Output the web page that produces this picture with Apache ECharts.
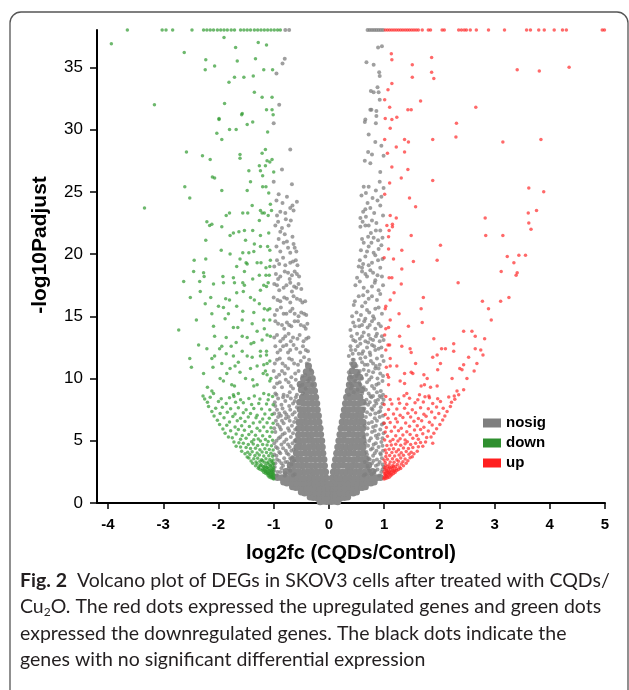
<!DOCTYPE html>
<html>
<head>
<meta charset="utf-8">
<script src="https://cdn.jsdelivr.net/npm/echarts@6/dist/echarts.min.js"></script>
<style>html,body{margin:0;padding:0;background:#fff;}#c{width:629px;height:690px;}</style>
</head>
<body>
<div id="c"></div>
<script>
// ---- tick labels ----
const xTicks = [-4, -3, -2, -1, 0, 1, 2, 3, 4, 5];
const yTicks = [0, 5, 10, 15, 20, 25, 30, 35];
const legendNames = ['nosig', 'down', 'up'];
const xTitle = 'log2fc (CQDs/Control)';
const yTitle = '-log10Padjust';

// ---- nosig: dense core (log2fc, -log10Padjust) ----
const nosigCore = [
[0.04,0.12],[0.1,0.14],[0.16,0.1],
[0.04,0.4],[0.12,0.43],[0.2,0.38],[0.28,0.44],[0.34,0.48],
[0.04,0.8],[0.12,0.78],[0.2,0.83],[0.28,0.79],[0.36,0.84],[0.44,0.8],[0.5,0.88],
[0.05,1.2],[0.13,1.22],[0.21,1.18],[0.29,1.21],[0.37,1.24],[0.45,1.19],[0.53,1.22],[0.6,1.25],[0.66,1.3],
[0.05,1.6],[0.13,1.62],[0.21,1.58],[0.29,1.6],[0.37,1.63],[0.45,1.59],[0.53,1.61],[0.61,1.6],[0.69,1.62],[0.76,1.6],[0.82,1.68],
[0.06,2.0],[0.14,2.02],[0.22,1.98],[0.3,2.01],[0.38,2.03],[0.46,1.99],[0.54,2.0],[0.62,2.02],[0.7,1.98],[0.78,2.0],[0.86,2.02],[0.93,2.05],
[0.08,2.5],[0.16,2.51],[0.24,2.48],[0.32,2.52],[0.4,2.5],[0.48,2.49],[0.56,2.52],[0.64,2.48],[0.72,2.5],[0.79,2.53],
[0.1,3.0],[0.18,3.01],[0.26,3.03],[0.34,2.98],[0.42,3.0],[0.5,3.02],[0.58,2.99],[0.66,3.01],[0.72,3.04],
[0.12,3.5],[0.2,3.49],[0.28,3.52],[0.36,3.5],[0.44,3.48],[0.52,3.51],[0.6,3.5],[0.67,3.53],
[0.14,4.0],[0.22,4.02],[0.3,3.99],[0.38,4.01],[0.46,4.0],[0.54,3.98],[0.62,4.02],
[0.16,4.5],[0.24,4.51],[0.32,4.48],[0.4,4.5],[0.48,4.52],[0.56,4.49],[0.62,4.5],
[0.18,5.0],[0.26,5.02],[0.34,4.99],[0.42,5.0],[0.5,5.01],[0.58,4.98],[0.62,5.03],
[0.2,5.5],[0.28,5.49],[0.36,5.52],[0.44,5.5],[0.52,5.48],[0.6,5.51],
[0.22,6.0],[0.3,6.02],[0.38,5.99],[0.46,6.0],[0.54,6.01],[0.61,5.98],
[0.24,6.5],[0.32,6.51],[0.4,6.48],[0.48,6.5],[0.56,6.52],[0.62,6.49],
[0.26,7.0],[0.34,7.02],[0.42,6.99],[0.5,7.0],[0.58,7.01],
[0.28,7.5],[0.36,7.49],[0.44,7.52],[0.52,7.5],[0.6,7.48],
[0.3,8.0],[0.38,8.02],[0.46,7.99],[0.54,8.0],[0.61,8.1],
[0.32,8.5],[0.4,8.49],[0.48,8.52],[0.56,8.5],
[0.35,9.0],[0.43,9.02],[0.51,8.98],[0.59,9.1],
[0.37,9.5],[0.45,9.55],[0.53,9.48],
[0.39,10.0],[0.47,10.05],[0.56,10.1],
[0.42,10.6],[0.5,10.5],
[0.45,11.1],
[-0.04,0.12],[-0.1,0.15],[-0.16,0.1],
[-0.04,0.4],[-0.12,0.42],[-0.2,0.39],[-0.28,0.45],[-0.34,0.48],
[-0.04,0.8],[-0.12,0.79],[-0.2,0.82],[-0.28,0.8],[-0.36,0.85],[-0.44,0.81],[-0.5,0.88],
[-0.04,1.2],[-0.12,1.21],[-0.2,1.19],[-0.28,1.22],[-0.36,1.2],[-0.44,1.23],[-0.52,1.2],[-0.6,1.24],[-0.66,1.3],
[-0.05,1.6],[-0.13,1.61],[-0.21,1.59],[-0.29,1.62],[-0.37,1.6],[-0.45,1.58],[-0.53,1.61],[-0.61,1.6],[-0.69,1.63],[-0.76,1.6],[-0.82,1.68],
[-0.05,2.0],[-0.13,2.01],[-0.21,1.99],[-0.29,2.02],[-0.37,2.0],[-0.45,1.98],[-0.53,2.01],[-0.61,2.03],[-0.69,1.99],[-0.77,2.0],[-0.85,2.02],[-0.93,2.05],
[-0.06,2.5],[-0.14,2.52],[-0.22,2.49],[-0.3,2.5],[-0.38,2.51],[-0.46,2.48],[-0.54,2.5],[-0.62,2.52],[-0.7,2.49],[-0.78,2.53],
[-0.08,3.0],[-0.16,3.02],[-0.24,2.99],[-0.32,3.0],[-0.4,3.01],[-0.48,2.98],[-0.56,3.02],[-0.64,3.0],[-0.7,3.04],
[-0.09,3.5],[-0.17,3.51],[-0.25,3.49],[-0.33,3.52],[-0.41,3.5],[-0.49,3.48],[-0.57,3.51],[-0.65,3.5],
[-0.11,4.0],[-0.19,4.02],[-0.27,3.99],[-0.35,4.0],[-0.43,4.01],[-0.51,3.98],[-0.59,4.02],
[-0.12,4.5],[-0.2,4.49],[-0.28,4.52],[-0.36,4.5],[-0.44,4.48],[-0.52,4.51],[-0.58,4.5],
[-0.13,5.0],[-0.21,5.01],[-0.29,4.99],[-0.37,5.02],[-0.45,5.0],[-0.53,4.98],[-0.57,5.03],
[-0.15,5.5],[-0.23,5.52],[-0.31,5.49],[-0.39,5.5],[-0.47,5.51],[-0.55,5.48],
[-0.16,6.0],[-0.24,6.01],[-0.32,5.98],[-0.4,6.0],[-0.48,6.02],[-0.55,5.99],
[-0.18,6.5],[-0.26,6.51],[-0.34,6.49],[-0.42,6.5],[-0.5,6.52],[-0.54,6.48],
[-0.19,7.0],[-0.27,7.01],[-0.35,6.98],[-0.43,7.0],[-0.51,7.02],
[-0.21,7.5],[-0.29,7.52],[-0.37,7.49],[-0.45,7.5],[-0.52,7.51],
[-0.22,8.0],[-0.3,8.01],[-0.38,7.99],[-0.46,8.02],[-0.53,8.1],
[-0.24,8.5],[-0.32,8.48],[-0.4,8.51],[-0.48,8.5],
[-0.26,9.0],[-0.34,9.02],[-0.42,8.99],[-0.5,9.1],
[-0.28,9.5],[-0.36,9.52],[-0.44,9.48],[-0.52,9.55],
[-0.3,10.0],[-0.38,10.04],[-0.46,9.98],
[-0.33,10.5],[-0.41,10.55],
[-0.37,11.0]
];

// ---- nosig: scattered points ----
const nosigSparse = [
[0.66,2.3],[0.74,2.6],[0.82,2.4],[0.88,2.7],[0.95,2.5],[0.99,2.9],[0.7,3.0],[0.78,3.2],[0.85,3.0],[0.92,3.3],[0.97,3.1],
[0.72,3.6],[0.8,3.8],[0.87,3.5],[0.94,3.9],[0.68,4.1],[0.76,4.3],[0.83,4.0],[0.9,4.5],[0.98,4.2],[0.66,4.8],[0.73,5.0],
[0.81,4.7],[0.88,5.2],[0.95,4.9],[0.69,5.5],[0.78,5.7],[0.85,5.4],[0.93,5.9],[0.99,5.6],[0.65,6.2],[0.72,6.4],[0.8,6.1],
[0.87,6.6],[0.96,6.3],[0.67,6.9],[0.75,7.1],[0.83,6.8],[0.9,7.3],[0.98,7.0],[0.64,7.6],[0.71,7.9],[0.79,7.5],[0.86,8.0],
[0.94,7.7],[0.68,8.3],[0.77,8.5],[0.84,8.2],[0.92,8.6],[0.99,8.3],
[0.63,2.2],[0.71,2.8],[0.77,2.3],[0.84,2.6],[0.91,2.2],[0.97,2.7],[0.65,3.3],[0.74,3.5],[0.81,3.4],[0.89,3.1],[0.96,3.6],
[0.69,3.9],[0.86,4.2],[0.93,4.0],[0.71,4.6],[0.79,4.4],[0.85,4.8],[0.97,4.6],[0.64,5.3],[0.76,5.2],[0.83,5.8],[0.9,5.5],
[0.97,5.2],[0.7,6.0],[0.78,6.5],[0.85,6.2],[0.92,6.9],[0.99,6.4],[0.69,7.3],[0.77,7.6],[0.84,7.2],[0.93,7.4],[0.66,8.0],
[0.74,8.1],[0.82,7.8],[0.89,8.3],[0.97,8.0],[0.72,8.8],[0.8,8.6],[0.95,8.5],
[-0.62,2.3],[-0.7,2.6],[-0.79,2.4],[-0.86,2.8],[-0.93,2.5],[-0.98,2.9],[-0.68,3.1],[-0.75,3.3],[-0.83,3.0],[-0.9,3.4],
[-0.97,3.2],[-0.66,3.7],[-0.73,3.9],[-0.81,3.6],[-0.88,4.0],[-0.95,3.8],[-0.64,4.3],[-0.71,4.5],[-0.78,4.2],[-0.86,4.7],
[-0.93,4.4],[-0.99,4.8],[-0.62,5.0],[-0.69,5.3],[-0.77,5.1],[-0.84,5.5],[-0.91,5.2],[-0.97,5.7],[-0.61,5.9],[-0.67,6.2],
[-0.74,6.0],[-0.82,6.4],[-0.89,6.1],[-0.96,6.6],[-0.6,6.8],[-0.66,7.1],[-0.73,6.9],[-0.8,7.3],[-0.87,7.0],[-0.94,7.5],
[-0.99,7.2],[-0.58,7.7],[-0.65,8.0],[-0.72,7.8],[-0.79,8.2],[-0.86,7.9],[-0.92,8.4],[-0.98,8.1],[-0.6,8.5],[-0.75,8.6],
[-0.65,2.2],[-0.73,2.8],[-0.8,2.2],[-0.88,2.5],[-0.95,2.2],[-0.99,2.6],[-0.63,3.4],[-0.7,3.6],[-0.79,3.3],[-0.86,3.2],
[-0.94,3.5],[-0.99,3.9],[-0.68,4.2],[-0.76,4.0],[-0.83,4.4],[-0.9,4.1],[-0.96,4.5],[-0.66,4.8],[-0.74,4.7],[-0.81,4.9],
[-0.88,5.3],[-0.95,5.0],[-0.65,5.6],[-0.72,5.8],[-0.8,5.6],[-0.87,5.9],[-0.93,6.3],[-0.99,6.0],[-0.63,6.5],[-0.71,6.6],
[-0.78,6.8],[-0.85,6.6],[-0.92,6.9],[-0.62,7.3],[-0.7,7.5],[-0.77,7.1],[-0.84,7.6],[-0.9,7.2],[-0.97,7.8],[-0.62,8.2],
[-0.69,8.4],[-0.83,8.5],[-0.95,8.7],
[0.36,8.7],[0.45,8.9],[0.6,8.8],[0.75,8.6],[0.87,8.9],[0.98,8.7],[0.4,9.2],[0.52,9.1],[0.63,9.3],[0.82,9.2],[0.94,9.0],
[0.39,9.6],[0.48,9.8],[0.57,9.5],[0.69,9.7],[0.78,9.4],[0.9,9.6],[0.41,10.1],[0.5,10.2],[0.6,10.0],[0.77,10.1],[0.88,10.0],
[0.36,10.5],[0.45,10.9],[0.54,10.4],[0.63,10.7],[0.72,10.6],[0.84,10.8],[0.93,10.4],
[0.4,11.2],[0.5,11.0],[0.6,11.3],[0.7,11.1],[0.8,11.2],[0.92,11.1],
[0.36,11.8],[0.45,11.5],[0.54,12.0],[0.66,11.7],[0.75,11.9],[0.87,11.6],[0.96,11.8],
[0.43,12.0],[0.62,12.2],[0.74,12.1],[0.84,12.3],
[0.39,12.6],[0.48,12.3],[0.57,12.8],[0.69,12.5],[0.78,12.7],[0.9,12.4],
[0.44,13.1],[0.56,13.2],[0.66,13.0],[0.8,13.1],[0.92,13.0],
[0.39,13.9],[0.51,13.6],[0.63,13.7],[0.72,13.5],[0.87,13.6],[0.96,13.4],
[0.47,14.2],[0.6,14.3],[0.7,14.1],[0.84,14.0],
[0.42,15.0],[0.54,14.7],[0.66,14.8],[0.78,14.6],[0.9,14.4],
[0.45,15.9],[0.6,15.8],[0.69,15.5],[0.84,15.6],[0.96,15.2],
[0.54,16.6],[0.72,16.4],[0.87,16.3],[0.48,17.5],[0.63,17.3],[0.78,17.4],[0.9,17.1],
[0.51,18.1],[0.69,18.2],[0.84,17.9],[0.96,18.2],[0.54,19.0],[0.6,18.6],[0.75,18.7],[0.93,18.9],
[0.56,19.5],[0.66,19.8],[0.78,19.3],[0.89,19.5],[0.72,20.6],[0.63,20.9],[0.9,20.4],[0.81,20.1],
[0.71,21.4],[0.81,21.3],[0.89,21.1],[0.57,22.2],[0.66,22.3],[0.93,21.9],
[0.57,22.9],[0.67,23.0],[0.78,22.7],[0.98,23.1],[0.75,23.7],[0.66,23.6],[0.88,24.3],[0.59,24.7],
[0.42,9.4],[0.55,9.7],[0.67,9.1],[0.73,9.9],[0.86,9.5],[0.97,9.8],[0.38,10.3],[0.56,10.6],[0.68,10.3],[0.8,10.5],[0.9,10.8],
[0.98,10.2],[0.43,11.5],[0.57,11.6],[0.65,11.1],[0.76,11.4],[0.85,11.0],[0.99,11.4],[0.4,12.3],[0.52,12.6],[0.6,12.0],
[0.71,12.9],[0.82,12.6],[0.95,12.5],[0.41,13.4],[0.48,13.0],[0.6,13.4],[0.75,13.2],[0.85,13.4],[0.99,13.1],[0.44,14.5],
[0.55,14.2],[0.64,14.6],[0.74,14.3],[0.82,14.8],[0.94,14.2],[0.5,15.3],[0.58,15.1],[0.73,15.3],[0.8,15.0],[0.9,15.7],
[0.47,16.2],[0.62,16.7],[0.66,16.1],[0.78,16.6],[0.93,16.8],[0.56,17.8],[0.7,17.0],[0.83,17.7],[0.98,17.5],[0.6,18.9],
[0.66,18.4],[0.8,18.5],[0.88,18.3],[0.62,19.2],[0.72,19.1],[0.84,19.9],[0.97,19.6],[0.58,20.3],[0.69,20.2],[0.77,20.9],
[0.95,20.7],[0.6,21.2],[0.76,21.7],[0.85,21.9],[0.97,21.3],[0.61,22.6],[0.72,22.3],[0.86,22.5],[0.62,23.4],[0.82,23.3],
[0.93,23.9],[0.7,24.1],[0.79,24.5],[0.95,24.6],[0.67,24.9],[0.85,25.1],
[0.63,25.4],[0.72,25.4],[0.99,25.3],[0.92,25.8],[0.93,26.6],[0.65,27.5],[0.75,27.3],[0.99,27.9],
[0.71,28.2],[0.78,28.0],[0.84,29.0],[0.95,28.7],[0.72,29.6],[0.65,30.6],[0.85,30.5],
[0.75,31.6],[0.92,32.4],[0.66,30.8],[0.77,31.6],[0.86,31.5],[0.86,31.1],
[0.76,33.1],[0.88,33.4],[0.9,33.0],[0.81,33.0],[0.91,34.6],[0.92,34.3],[0.68,35.4],[0.81,35.2],[0.89,36.6],[0.96,36.7],
[0.7,38],[0.74,38],[0.78,38],[0.82,38],[0.86,38],[0.9,38],[0.94,38],[0.98,38],
[-0.9,32.0],[-1.0,30.5],[-0.7,28.4],[-0.85,26.8],[-0.67,25.6],[-1.0,25.8],[-0.91,24.8],[-0.7,23.7],[-0.64,23.5],
[-0.79,23.3],[-0.94,23.1],[-0.88,23.4],[-0.58,24.2],[-0.97,22.3],[-0.85,22.1],[-0.73,22.3],[-0.91,21.2],[-0.76,21.0],
[-0.64,20.8],[-0.88,20.2],[-0.7,20.1],[-0.59,20.2],[-0.94,19.5],[-0.79,19.1],[-0.65,19.4],[-0.57,19.1],
[-0.96,18.4],[-0.88,18.2],[-0.74,18.5],[-0.67,18.3],[-0.58,18.4],[-0.94,17.5],[-0.82,17.3],[-0.7,17.7],[-0.63,17.4],[-0.55,17.6],
[-1.0,16.5],[-0.88,16.2],[-0.76,16.4],[-0.64,16.6],[-0.52,16.3],[-0.43,16.2],
[-0.94,15.5],[-0.82,15.2],[-0.7,15.4],[-0.62,15.2],[-0.5,15.3],[-0.41,15.1],
[-0.97,14.6],[-0.85,14.3],[-0.76,14.5],[-0.68,14.2],[-0.56,14.6],[-0.45,14.2],[-0.39,14.4],
[-0.94,13.5],[-0.83,13.2],[-0.73,13.6],[-0.65,13.3],[-0.53,13.5],[-0.41,13.2],
[-0.97,12.6],[-0.88,12.3],[-0.77,12.7],[-0.7,12.3],[-0.59,12.4],[-0.47,12.6],[-0.38,12.2],
[-0.94,11.5],[-0.84,11.2],[-0.72,11.6],[-0.63,11.2],[-0.51,11.4],[-0.4,11.2],
[-1.0,10.6],[-0.9,10.3],[-0.8,10.4],[-0.68,10.1],[-0.55,10.6],[-0.43,10.3],[-0.35,10.0],
[-0.94,9.6],[-0.85,9.3],[-0.73,9.7],[-0.65,9.2],[-0.53,9.4],[-0.42,9.2],
[-0.97,8.8],[-0.82,8.7],[-0.71,8.9],[-0.58,8.7],[-0.47,8.8],
[-0.3,9.5],[-0.38,9.8],[-0.48,9.5],[-0.6,9.9],[-0.69,9.4],[-0.78,9.9],[-0.89,9.7],[-0.99,9.3],[-0.33,10.7],[-0.48,10.2],
[-0.61,10.4],[-0.74,10.8],[-0.85,10.6],[-0.95,10.1],[-0.36,11.5],[-0.45,11.7],[-0.56,11.1],[-0.67,11.5],[-0.79,11.0],
[-0.89,11.6],[-0.98,11.2],[-0.42,12.3],[-0.52,12.1],[-0.64,12.7],[-0.74,12.1],[-0.83,12.6],[-0.93,12.1],[-0.37,13.3],
[-0.46,13.0],[-0.57,13.2],[-0.69,13.0],[-0.79,13.4],[-0.88,13.0],[-0.99,13.3],[-0.42,14.0],[-0.51,14.3],[-0.62,14.6],
[-0.72,14.3],[-0.81,14.0],[-0.92,14.4],[-0.45,15.2],[-0.55,15.0],[-0.66,15.6],[-0.77,15.2],[-0.87,15.7],[-0.98,15.1],
[-0.48,16.1],[-0.58,16.4],[-0.7,16.1],[-0.81,16.5],[-0.93,16.3],[-0.5,17.2],[-0.59,17.3],[-0.67,17.0],[-0.77,17.5],
[-0.9,17.1],[-0.99,17.6],[-0.54,18.2],[-0.62,18.6],[-0.71,18.0],[-0.8,18.6],[-0.92,18.0],[-0.6,19.5],[-0.7,19.3],
[-0.83,19.7],[-0.9,19.2],[-0.99,19.0],[-0.62,20.5],[-0.74,20.5],[-0.82,20.9],[-0.95,20.6],[-0.66,21.4],[-0.8,21.6],
[-0.88,21.8],[-0.69,22.7],[-0.78,22.8],[-0.92,22.6],[-0.66,23.9],[-0.84,24.1],[-0.76,24.6],[-0.95,24.3],
[-0.95,34.5],[-0.8,35.7],[-0.84,35.3],[-0.79,38],[-0.72,38]
];

// ---- down (green) ----
const downGenes = [
[-1.0,1.92],[-1.02,1.98],[-1.05,2.02],[-1.08,2.08],[-1.01,2.1],[-1.04,2.15],[-1.1,2.18],[-1.0,2.0],[-1.03,2.12],[-1.06,2.18],
[-1.0,2.25],[-1.03,2.28],[-1.06,2.3],[-1.09,2.35],[-1.12,2.32],[-1.15,2.4],[-1.02,2.42],[-1.07,2.45],[-1.18,2.48],[-1.12,2.5],
[-1.0,2.32],[-1.04,2.48],[-1.1,2.4],[-1.15,2.55],[-1.2,2.72],[-1.06,2.66],[-1.01,2.7],[-1.12,2.85],[-1.18,2.9],[-1.24,3.0],
[-1.06,3.0],[-1.0,3.15],[-1.12,3.2],[-1.2,3.4],[-1.04,3.35],
[-1.01,2.55],[-1.04,2.6],[-1.08,2.58],[-1.11,2.65],[-1.14,2.6],[-1.17,2.68],[-1.21,2.62],[-1.25,2.72],[-1.03,2.75],[-1.09,2.78],
[-1.16,2.8],[-1.28,2.8],[-1.0,2.85],[-1.05,2.9],[-1.12,2.88],[-1.2,2.95],[-1.27,2.92],[-1.33,3.0],[-1.02,3.05],[-1.08,3.1],
[-1.15,3.02],[-1.23,3.12],[-1.3,3.15],[-1.38,3.2],[-1.03,3.25],[-1.1,3.3],[-1.17,3.28],[-1.25,3.35],[-1.32,3.3],[-1.41,3.38],
[-1.01,3.45],[-1.07,3.5],[-1.14,3.55],[-1.22,3.48],[-1.29,3.6],[-1.36,3.55],[-1.45,3.62],[-1.48,3.7],[-1.02,3.75],[-1.09,3.8],
[-1.18,3.78],[-1.26,3.85],[-1.34,3.82],[-1.43,3.9],[-1.52,3.95],[-1.05,4.0],[-1.13,4.05],[-1.21,4.1],[-1.3,4.02],[-1.39,4.12],
[-1.47,4.08],[-1.58,4.15],[-1.01,4.25],[-1.08,4.3],[-1.16,4.35],[-1.25,4.28],[-1.33,4.4],[-1.42,4.38],[-1.5,4.45],[-1.6,4.5],
[-1.68,4.55],[-1.04,4.6],[-1.12,4.65],[-1.2,4.7],[-1.29,4.62],[-1.37,4.75],[-1.46,4.7],[-1.55,4.8],[-1.63,4.85],[-1.72,4.9],
[-1.1,4.95],[-1.24,4.98],[-1.4,4.92],[-1.02,5.05],[-1.15,5.1],[-1.28,5.15],[-1.36,5.08],[-1.5,5.2],[-1.6,5.12],[-1.75,5.25],
[-1.82,5.3],[-1.07,5.35],[-1.2,5.4],[-1.33,5.45],[-1.45,5.5],[-1.57,5.42],[-1.68,5.55],[-1.88,5.6],[-1.03,5.7],[-1.12,5.75],
[-1.25,5.8],[-1.4,5.72],[-1.53,5.85],[-1.64,5.9],[-1.78,5.8],[-1.92,5.95],[-1.05,6.05],[-1.18,6.1],[-1.3,6.0],[-1.44,6.15],
[-1.58,6.2],[-1.7,6.1],[-1.85,6.25],[-1.98,6.3],[-1.01,6.4],[-1.12,6.45],[-1.25,6.5],[-1.37,6.42],[-1.52,6.55],[-1.66,6.6],
[-1.8,6.5],[-2.02,6.65],[-1.08,6.8],[-1.2,6.75],[-1.32,6.85],[-1.46,6.9],[-1.6,6.8],[-1.74,6.95],[-1.9,6.85],[-2.08,6.98],
[-1.03,7.1],[-1.16,7.15],[-1.3,7.05],[-1.42,7.2],[-1.55,7.25],[-1.7,7.15],[-1.84,7.3],[-1.97,7.2],[-2.12,7.35],[-1.07,7.5],
[-1.22,7.55],[-1.36,7.6],[-1.5,7.5],[-1.64,7.65],[-1.78,7.58],[-1.93,7.7],[-2.05,7.62],[-2.18,7.75],[-1.01,7.9],[-1.13,7.95],
[-1.27,8.0],[-1.4,7.92],[-1.55,8.05],[-1.69,8.1],[-1.86,8.0],[-2.0,8.15],[-2.2,8.1],[-1.1,8.3],[-1.25,8.35],[-1.45,8.4],
[-1.6,8.3],[-1.8,8.45],[-1.95,8.38],[-2.15,8.5],[-2.25,8.35],[-1.02,8.55],[-1.35,8.6],[-1.72,8.55],
[-2.28,8.6],[-1.73,8.7],[-1.64,8.8],[-1.18,8.8],[-1.09,8.7],[-2.12,9.0],[-2.09,8.8],[-2.2,9.3],[-1.76,9.5],[-1.71,9.4],
[-1.36,9.4],[-1.3,9.5],[-1.97,10.0],[-1.91,9.8],[-1.51,10.0],[-1.38,9.9],[-1.07,9.8],[-1.05,10.0],[-2.27,10.4],[-1.85,10.4],
[-1.61,10.5],[-1.19,10.4],[-1.15,10.6],[-1.12,10.3],[-2.49,10.9],[-2.1,10.9],[-1.79,10.8],[-1.7,11.0],[-1.42,10.8],[-1.3,11.0],
[-1.94,11.2],[-1.64,11.3],[-1.18,11.1],[-1.12,11.2],[-1.07,11.4],[-2.52,11.6],[-2.12,11.6],[-2.07,11.8],[-1.86,12.0],[-1.73,11.8],
[-1.48,11.8],[-1.39,11.7],[-1.24,11.8],[-1.13,11.9],[-2.21,12.4],[-1.57,12.2],[-1.24,12.2],[-1.13,12.2],[-2.36,12.7],[-1.98,12.4],
[-1.94,12.6],[-1.77,12.6],[-1.68,12.9],[-1.41,12.8],[-1.36,12.9],[-1.21,13.1],[-2.07,13.4],[-1.86,13.3],[-1.57,13.4],[-1.48,13.3],
[-1.12,13.5],[-1.06,13.4],[-1.3,13.8],[-2.72,13.9],[-2.09,14.2],[-1.73,14.1],[-1.65,14.1],[-1.17,14.0],[-1.39,14.4],[-2.4,14.7],
[-1.88,14.8],[-1.18,14.7],[-1.07,14.7],[-1.57,14.7],[-2.12,15.2],[-1.82,15.2],[-1.56,15.4],[-1.36,15.3],[-1.17,15.6],[-1.11,15.5],
[-1.07,15.6],[-2.0,15.8],[-1.91,15.7],[-1.67,15.8],[-2.24,16.0],[-1.26,16.0],[-1.8,16.3],[-1.87,16.4],[-1.35,16.3],[-1.42,16.5],
[-2.51,16.5],[-2.14,16.5],[-2.33,17.0],[-1.55,17.0],[-1.67,16.9],[-1.24,17.1],[-2.63,17.8],[-2.34,17.8],[-2.09,17.6],[-1.91,17.7],
[-1.71,17.7],[-1.56,17.7],[-1.53,17.5],[-1.18,17.5],[-1.13,17.4],[-1.1,17.7],[-1.73,18.1],[-1.38,18.0],[-2.45,18.6],[-2.27,18.5],
[-2.26,18.2],[-1.53,18.6],[-1.92,18.2],[-1.26,18.3],[-1.14,18.3],[-1.08,18.3],[-1.67,19.0],[-1.14,18.9],[-1.07,19.0],[-1.3,19.3],
[-1.23,19.3],[-1.5,19.3],[-1.48,19.2],[-1.06,19.5],[-1.61,19.6],[-2.44,19.5],[-2.23,19.6],[-1.95,20.3],[-1.56,20.1],[-1.45,20.1],
[-1.36,20.2],[-1.79,20.0],[-1.24,20.6],[-1.11,20.6],[-1.07,20.3],[-1.35,20.8],[-2.23,21.1],[-1.51,21.1],[-1.79,21.5],[-1.24,21.5],
[-1.09,21.7],[-1.73,21.7],[-1.63,21.8],[-1.53,21.9],[-1.38,21.9],[-1.94,22.2],[-2.16,22.3],[-2.12,22.4],[-2.21,22.6],[-1.26,22.7],
[-1.1,23.1],[-1.86,23.1],[-1.8,23.3],[-1.56,23.3],[-1.47,23.3],[-1.24,23.5],[-1.21,23.3],[-1.17,23.3],[-1.04,23.5],[-1.06,24.0],
[-1.39,23.9],[-3.34,23.7],[-2.52,24.5],[-1.09,24.9],[-1.94,25.1],[-1.48,25.1],[-2.61,25.4],[-1.2,25.4],[-1.14,25.4],[-1.42,25.8],
[-2.11,26.2],[-2.07,26.1],[-1.0,26.6],[-1.45,26.7],[-1.24,26.7],[-1.2,26.3],[-1.26,27.1],[-1.15,27.1],[-1.12,27.5],[-1.03,27.6],
[-1.07,27.4],[-2.29,27.9],[-2.15,27.6],[-1.61,28.0],[-1.61,27.7],[-2.58,28.2],[-1.15,28.4],[-1.21,28.1],[-1.94,29.2],[-2.03,29.7],
[-1.11,29.8],[-1.8,30.0],[-1.68,30.0],[-1.38,30.6],[-1.48,30.4],[-1.99,30.8],[-1.57,31.3],[-1.13,31.6],[-1.03,31.6],[-1.89,32.1],
[-3.16,32.0],[-1.01,31.2],[-1.58,31.2],[-1.99,30.9],[-1.21,32.6],[-1.03,32.6],[-1.35,33.0],[-1.81,33.8],[-1.37,34.3],[-1.71,34.2],
[-1.54,34.2],[-2.24,34.8],[-1.18,34.8],[-1.02,34.8],[-2.07,35.1],[-2.23,35.6],[-1.66,35.5],[-1.33,35.7],[-2.62,36.2],[-1.69,36.6],
[-1.13,36.8],[-1.28,37.0],[-3.94,36.9],[-1.9,37.4],
[-3.65,38],[-3.02,38],[-2.95,38],[-2.83,38],[-2.48,38],[-2.27,38],[-2.21,38],[-2.15,38],[-2.09,38],[-2.02,38],[-1.96,38],
[-1.9,38],[-1.84,38],[-1.77,38],[-1.71,38],[-1.6,38],[-1.54,38],[-1.48,38],[-1.42,38],[-1.35,38],[-1.29,38],[-1.23,38],
[-1.17,38],[-1.11,38],[-1.05,38],[-0.99,38],[-0.93,38],[-0.88,38]
];

// ---- up (red) ----
const upGenes = [
[1.0,1.92],[1.03,1.97],[1.06,2.02],[1.09,2.06],[1.01,2.1],[1.05,2.14],[1.12,2.18],[1.02,2.24],[1.07,2.27],[1.1,2.31],
[1.14,2.29],[1.17,2.38],[1.03,2.4],[1.08,2.44],[1.2,2.47],[1.13,2.5],[1.0,2.52],[1.05,2.58],[1.09,2.55],[1.12,2.63],
[1.16,2.59],[1.19,2.66],[1.23,2.61],[1.26,2.7],[1.02,2.73],[1.08,2.76],[1.15,2.79],[1.3,2.78],[1.01,2.86],[1.06,2.91],
[1.0,2.02],[1.04,2.2],[1.01,2.35],[1.11,2.4],[1.06,2.48],[1.18,2.55],[1.22,2.75],[1.04,2.66],[1.1,2.86],[1.17,2.92],
[1.13,2.87],[1.21,2.94],[1.28,2.9],[1.35,2.99],[1.03,3.04],[1.09,3.08],[1.16,3.03],[1.24,3.1],[1.31,3.14],[1.4,3.2],
[1.02,3.26],[1.11,3.3],[1.18,3.27],[1.26,3.36],[1.34,3.31],[1.43,3.39],[1.0,3.46],[1.06,3.51],[1.15,3.55],[1.23,3.47],
[1.3,3.61],[1.38,3.54],[1.47,3.63],[1.51,3.71],[1.03,3.74],[1.1,3.81],[1.19,3.77],[1.27,3.86],[1.35,3.83],[1.45,3.91],
[1.54,3.96],[1.04,4.01],[1.14,4.06],[1.22,4.11],[1.31,4.03],[1.4,4.13],[1.49,4.07],[1.6,4.16],[1.02,4.26],[1.09,4.31],
[1.17,4.36],[1.26,4.27],[1.35,4.41],[1.44,4.37],[1.52,4.46],[1.62,4.51],[1.7,4.56],[1.05,4.61],[1.13,4.66],[1.21,4.71],
[1.3,4.63],[1.38,4.76],[1.48,4.69],[1.57,4.81],[1.66,4.86],[1.75,4.91],[1.88,4.8],[1.11,4.96],[1.25,4.99],[1.42,4.93],
[1.01,5.06],[1.16,5.11],[1.29,5.16],[1.38,5.07],[1.52,5.21],[1.62,5.13],[1.77,5.26],[1.85,5.31],[1.06,5.36],[1.21,5.41],
[1.34,5.46],[1.47,5.51],[1.59,5.43],[1.7,5.56],[1.9,5.61],[1.02,5.71],[1.13,5.76],[1.26,5.81],[1.41,5.73],[1.55,5.86],
[1.66,5.91],[1.8,5.79],[1.95,5.96],[1.04,6.06],[1.19,6.11],[1.31,6.01],[1.46,6.16],[1.6,6.21],[1.72,6.09],[1.87,6.26],
[2.01,6.31],[1.0,6.41],[1.11,6.46],[1.24,6.51],[1.39,6.43],[1.54,6.56],[1.68,6.61],[1.82,6.49],[2.06,6.66],[1.07,6.81],
[1.21,6.76],[1.34,6.86],[1.48,6.91],[1.62,6.79],[1.76,6.96],[1.92,6.84],[2.1,6.99],[1.02,7.11],[1.17,7.16],[1.29,7.04],
[1.43,7.21],[1.57,7.26],[1.72,7.14],[1.86,7.31],[1.99,7.19],[2.14,7.36],[1.08,7.51],[1.23,7.56],[1.37,7.61],[1.51,7.49],
[1.66,7.66],[1.8,7.57],[1.95,7.71],[2.07,7.61],[2.2,7.76],[1.0,7.91],[1.14,7.96],[1.28,8.01],[1.41,7.93],[1.56,8.06],
[1.71,8.11],[1.88,7.99],[2.02,8.16],[2.22,8.09],[1.11,8.31],[1.26,8.36],[1.46,8.41],[1.61,8.29],[1.82,8.46],[1.97,8.37],
[2.17,8.51],[2.28,8.34],[1.03,8.56],[1.36,8.61],[1.74,8.54],
[1.41,8.8],[1.64,8.7],[1.81,8.6],[2.27,8.6],[2.35,8.7],[2.32,9.0],[2.44,9.1],[1.84,9.3],[1.96,9.4],[1.67,9.4],[1.73,9.5],
[1.08,9.5],[1.29,9.8],[1.37,9.6],[1.06,10.3],[1.08,10.1],[1.37,10.4],[1.72,10.3],[1.78,10.0],[2.23,10.0],[2.5,10.0],
[1.49,10.5],[1.52,10.4],[2.37,10.8],[2.41,10.7],[2.63,10.6],[1.04,10.9],[1.11,11.0],[1.23,11.0],[2.02,11.2],[1.97,10.7],
[2.44,11.1],[2.68,11.2],[1.57,11.2],[1.11,11.6],[1.88,11.7],[1.96,11.9],[2.53,11.7],[2.79,11.9],[1.03,12.3],[1.47,12.4],
[1.49,12.1],[2.26,12.2],[2.04,12.4],[2.11,12.4],[2.65,12.4],[2.75,12.3],[1.07,12.7],[1.1,12.7],[1.32,12.6],[2.26,12.8],
[1.01,13.5],[1.28,13.4],[1.9,13.2],[2.65,13.4],[2.82,13.2],[2.44,13.8],[2.59,13.8],[1.03,14.0],[1.08,14.1],[1.44,14.2],
[1.69,14.5],[1.11,14.7],[2.94,14.7],[1.27,15.2],[1.67,15.6],[2.89,15.6],[1.03,15.8],[1.02,15.6],[1.11,16.3],[1.71,16.5],
[2.78,16.2],[3.11,16.2],[3.26,16.5],[1.18,16.9],[1.31,17.6],[2.34,17.7],[1.09,18.1],[1.14,18.1],[3.41,18.5],[3.39,18.3],
[3.12,18.6],[1.32,18.8],[3.35,19.3],[1.0,19.7],[1.17,19.6],[1.53,19.4],[1.96,19.5],[3.23,19.8],[3.44,19.9],[3.56,19.9],
[1.08,20.4],[1.32,20.3],[2.02,20.7],[1.08,21.4],[1.49,21.5],[2.84,21.5],[3.15,21.5],[1.09,21.9],[3.66,22.0],[1.05,22.3],
[1.15,22.4],[1.15,22.2],[3.62,22.5],[1.11,23.1],[1.22,22.9],[2.83,22.9],[3.61,23.3],[3.76,23.5],[1.57,23.8],[1.46,24.5],
[1.01,24.8],[3.89,25.0],[3.62,25.3],[1.1,25.7],[1.88,25.9],[1.31,26.1],[1.43,26.8],[1.14,27.0],[1.06,28.1],[1.37,28.2],
[1.22,28.6],[1.44,29.0],[3.15,29.0],[1.01,29.2],[1.37,29.2],[1.88,29.2],[3.84,29.2],[2.3,29.4],[1.11,30.1],[2.31,30.5],
[1.14,30.8],[1.23,31.0],[1.02,30.9],[1.43,31.6],[1.49,31.6],[1.1,31.8],[2.66,31.8],[1.01,32.4],[1.66,32.3],[1.07,33.2],
[1.14,33.7],[1.9,34.1],[1.51,34.2],[1.86,34.6],[3.81,34.7],[3.41,34.8],[4.35,35.0],[1.51,35.2],[1.14,35.6],[1.86,35.8],
[1.13,36.1],
[1.02,38],[1.06,38],[1.1,38],[1.14,38],[1.18,38],[1.22,38],[1.26,38],[1.3,38],[1.34,38],[1.38,38],[1.42,38],[1.46,38],
[1.5,38],[1.54,38],[1.58,38],[1.62,38],[1.69,38],[1.8,38],[1.84,38],[2.05,38],[2.09,38],[2.35,38],[2.4,38],[2.45,38],
[2.49,38],[2.56,38],[2.67,38],[2.89,38],[3.18,38],[3.58,38],[3.65,38],[3.8,38],[3.9,38],[4.08,38],[4.23,38],[4.3,38],
[4.95,38],[4.99,38]
];

const captionLines = [
  '{b|Fig. 2}  Volcano plot of DEGs in SKOV3 cells after treated with CQDs/',
  'Cu{s|2}O. The red dots expressed the upregulated genes and green dots',
  'expressed the downregulated genes. The black dots indicate the',
  'genes with no significant differential expression'
];

const chart = echarts.init(document.getElementById('c'), null, {renderer: 'canvas'});
const FONT = 'Liberation Sans, Arial, sans-serif';
const capFont = 'Lato, Open Sans, sans-serif';
const capSize = 19.5;

const graphics = [
  {type: 'rect', shape: {x: 10, y: 12, width: 618, height: 720, r: 11},
   style: {fill: 'none', stroke: '#555', lineWidth: 1.3}, silent: true, z: 0},
  {type: 'text', x: 40, y: 245, rotation: Math.PI / 2, silent: true,
   style: {text: yTitle, fill: '#000', fontSize: 21, fontWeight: 'bold', fontFamily: FONT,
           align: 'center', verticalAlign: 'middle'}}
];
const capY = [581, 607, 634, 660];
captionLines.forEach((t, i) => {
  graphics.push({
    type: 'text', x: 20, y: capY[i], silent: true,
    style: {
      text: t, fill: '#231f20', fontSize: capSize, fontFamily: capFont,
      verticalAlign: 'middle', align: 'left',
      rich: {
        b: {fontWeight: 'bold', fontSize: capSize, fontFamily: capFont, fill: '#231f20'},
        s: {fontSize: 12, fontFamily: capFont, fill: '#231f20', padding: [10, 0, 0, 0]}
      }
    }
  });
});

const option = {
  animation: false,
  backgroundColor: '#fff',
  grid: {left: 97, right: 24, top: 30, bottom: 187},
  legend: {
    orient: 'vertical', left: 478, top: 409, itemWidth: 18, itemHeight: 9, itemGap: 2, icon: 'rect',
    textStyle: {fontSize: 15, fontWeight: 'bold', color: '#000', fontFamily: FONT, lineHeight: 18},
    data: [
      {name: legendNames[0], itemStyle: {color: '#7f7f7f', opacity: 1}},
      {name: legendNames[1], itemStyle: {color: '#2f8f2f', opacity: 1}},
      {name: legendNames[2], itemStyle: {color: '#ff1f1f', opacity: 1}}
    ]
  },
  xAxis: {
    type: 'value', min: -4.2, max: 5,
    name: xTitle, nameLocation: 'middle', nameGap: 40,
    nameTextStyle: {fontSize: 20, fontWeight: 'bold', color: '#000', fontFamily: FONT},
    axisLine: {onZero: false, lineStyle: {color: '#000', width: 2}},
    axisTick: {customValues: xTicks, length: 6, lineStyle: {color: '#000', width: 1.5}},
    axisLabel: {customValues: xTicks, margin: 14, fontSize: 15, fontWeight: 'bold', color: '#000', fontFamily: FONT},
    splitLine: {show: false}
  },
  yAxis: {
    type: 'value', min: 0, max: 38,
    axisLine: {show: true, onZero: false, lineStyle: {color: '#000', width: 2}},
    axisTick: {show: true, customValues: yTicks, length: 7, lineStyle: {color: '#000', width: 1.5}},
    axisLabel: {customValues: yTicks, margin: 14, fontSize: 17, color: '#000', fontFamily: FONT},
    splitLine: {show: false}
  },
  series: [
    {name: 'nosig', type: 'scatter', data: nosigCore, symbolSize: 7, itemStyle: {color: '#8a8a8a', opacity: 1}, z: 2, silent: true},
    {name: 'nosig', type: 'scatter', data: nosigSparse, symbolSize: 4, itemStyle: {color: '#7f7f7f', opacity: 0.75}, z: 2, silent: true},
    {name: 'down', type: 'scatter', data: downGenes, symbolSize: 3.5, itemStyle: {color: '#2f9a2f', opacity: 0.7}, z: 3, silent: true},
    {name: 'up', type: 'scatter', data: upGenes, symbolSize: 3.5, itemStyle: {color: '#ff2a2a', opacity: 0.7}, z: 3, silent: true}
  ],
  graphic: graphics
};
chart.setOption(option);
</script>
</body>
</html>
